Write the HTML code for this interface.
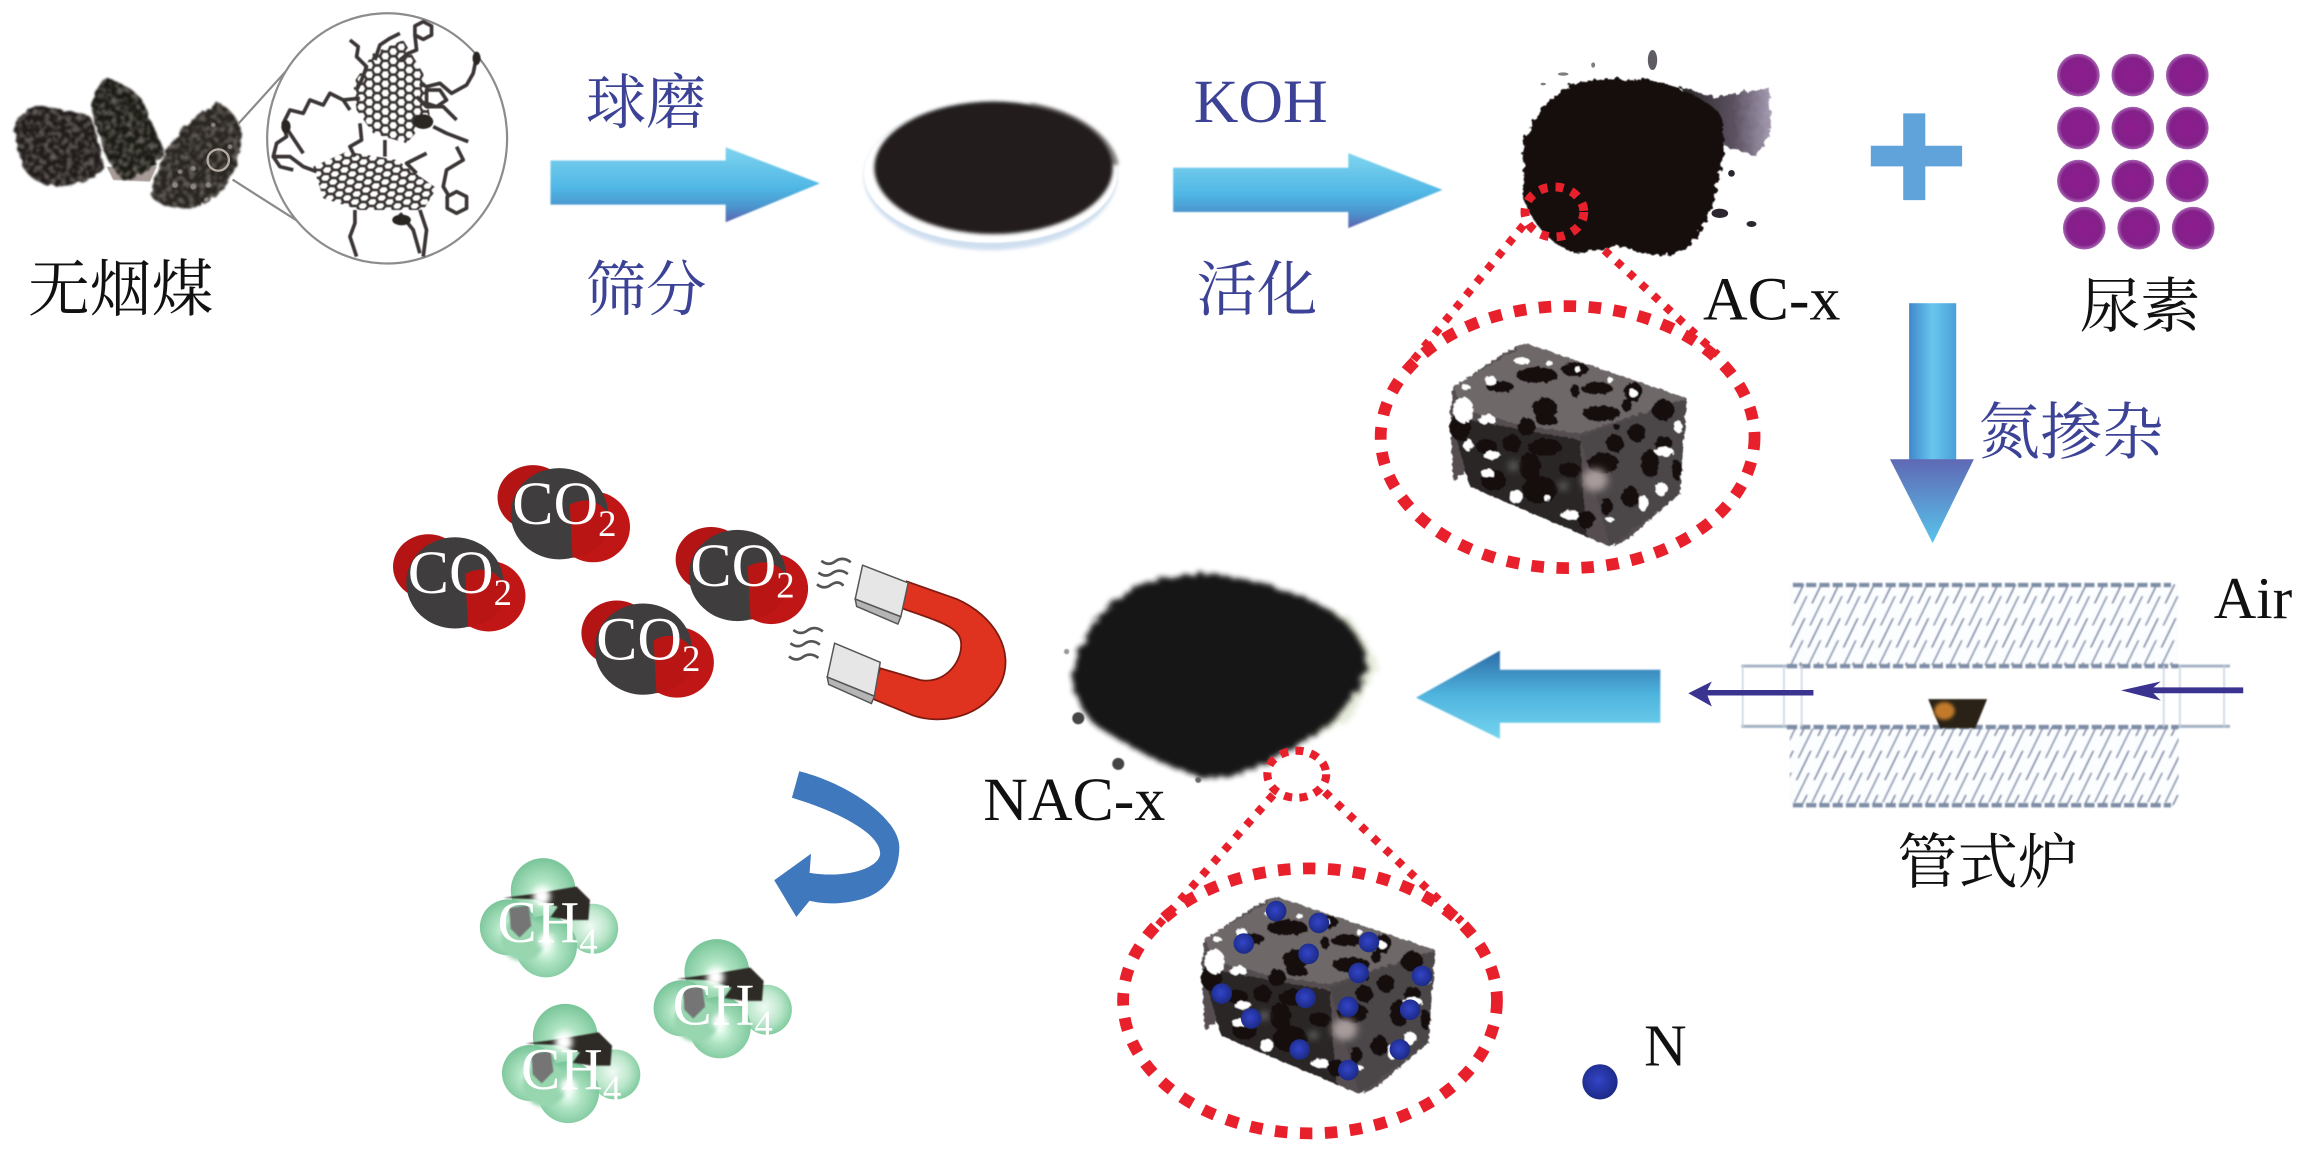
<!DOCTYPE html>
<html><head><meta charset="utf-8"><style>
html,body{margin:0;padding:0;background:#fff;width:2308px;height:1150px;overflow:hidden}
svg{display:block}
.zh{font-family:"Liberation Serif","Noto Serif CJK SC",serif;font-size:41px}
.en{font-family:"Liberation Serif","Noto Serif CJK SC",serif;font-size:42px}
.blue{fill:#3c4295}.blk{fill:#111}
.w{font-family:"Liberation Serif",serif;fill:#fff;font-size:42px}
.c{font-size:40px}
.s{font-size:25px}
</style></head><body>
<svg width="2308" height="1150" viewBox="0 0 1568 781.3" xmlns="http://www.w3.org/2000/svg" preserveAspectRatio="none">
<defs>
<linearGradient id="a1" x1="0" y1="0" x2="0" y2="1"><stop offset="0" stop-color="#7fd4ef"/><stop offset=".55" stop-color="#4fb6e4"/><stop offset=".8" stop-color="#4b93cc"/><stop offset="1" stop-color="#5d63b0"/></linearGradient>
<linearGradient id="a2" x1="0" y1="0" x2="1" y2="0"><stop offset="0" stop-color="#3f88cc"/><stop offset=".5" stop-color="#68c6ee"/><stop offset="1" stop-color="#4a9fd8"/></linearGradient>
<linearGradient id="a2h" x1="0" y1="0" x2="0" y2="1"><stop offset="0" stop-color="#5f68b4"/><stop offset="1" stop-color="#58c4ec"/></linearGradient>
<linearGradient id="a3" x1="0" y1="0" x2="0" y2="1"><stop offset="0" stop-color="#2b6aa6"/><stop offset=".5" stop-color="#4fb4de"/><stop offset="1" stop-color="#74d4ee"/></linearGradient>
<linearGradient id="st" x1="0" y1="0" x2="1" y2="0"><stop offset="0" stop-color="#120e0e"/><stop offset=".6" stop-color="#4a3f50"/><stop offset="1" stop-color="#9a8fa8"/></linearGradient>
<radialGradient id="gr" cx=".5" cy=".55" r=".55"><stop offset="0" stop-color="#eafff2"/><stop offset=".4" stop-color="#aee3c2"/><stop offset="1" stop-color="#78c498"/></radialGradient>
<radialGradient id="gr2" cx=".45" cy=".45" r=".55"><stop offset="0" stop-color="#f0fbf4"/><stop offset=".6" stop-color="#bde7cc"/><stop offset="1" stop-color="#86cda2"/></radialGradient>
<radialGradient id="pu" cx=".5" cy=".5" r=".5"><stop offset="0" stop-color="#8d1c8d"/><stop offset=".8" stop-color="#84208a"/><stop offset="1" stop-color="#a868b4"/></radialGradient>
<radialGradient id="bd" cx=".45" cy=".45" r=".55"><stop offset="0" stop-color="#3345c8"/><stop offset="1" stop-color="#1c2a86"/></radialGradient>
<pattern id="hexT" width="48" height="27.7" patternUnits="userSpaceOnUse"><path d="M0,13.85 L8,0 L24,0 L32,13.85 L24,27.7 L8,27.7 Z M32,13.85 L48,13.85" fill="none" stroke="#3b3534" stroke-width="8"/></pattern>
<pattern id="hexL" width="52" height="24" patternUnits="userSpaceOnUse" patternTransform="skewX(-12)"><path d="M0,12 L9,0 L26,0 L35,12 L26,24 L9,24 Z M35,12 L52,12" fill="none" stroke="#3b3534" stroke-width="8"/></pattern>
<pattern id="hatch" width="12" height="30" patternUnits="userSpaceOnUse" patternTransform="skewX(-26)"><rect width="12" height="30" fill="#fbfdff"/><line x1="3" y1="0" x2="3" y2="20" stroke="#7585a2" stroke-width="1.3"/><line x1="9" y1="15" x2="9" y2="30" stroke="#8394ae" stroke-width="1.3"/><line x1="9" y1="0" x2="9" y2="5" stroke="#8394ae" stroke-width="1.3"/></pattern>
<filter id="roughZ" x="-15%" y="-15%" width="130%" height="130%"><feTurbulence type="fractalNoise" baseFrequency=".05" numOctaves="3" seed="4"/><feDisplacementMap in="SourceGraphic" scale="24"/><feGaussianBlur stdDeviation="1.2"/></filter>
<filter id="roughB" x="-15%" y="-15%" width="130%" height="130%"><feTurbulence type="fractalNoise" baseFrequency=".05" numOctaves="3" seed="9"/><feDisplacementMap in="SourceGraphic" scale="28"/><feGaussianBlur stdDeviation="8"/></filter>
<filter id="tex" x="-10%" y="-10%" width="120%" height="120%"><feTurbulence type="fractalNoise" baseFrequency=".05" numOctaves="2" seed="3" result="n"/><feDisplacementMap in="SourceGraphic" in2="n" scale="18" result="d"/><feTurbulence type="fractalNoise" baseFrequency=".06" numOctaves="2" seed="7"/><feColorMatrix values="0 0 0 0 .3 0 0 0 0 .27 0 0 0 0 .24 0 0 0 1.2 -.55"/><feComposite in2="d" operator="in" result="sp"/><feMerge><feMergeNode in="d"/><feMergeNode in="sp"/></feMerge><feGaussianBlur stdDeviation="3"/></filter>
<filter id="cubef" x="-10%" y="-10%" width="120%" height="120%"><feTurbulence type="fractalNoise" baseFrequency=".07" numOctaves="2" seed="5"/><feDisplacementMap in="SourceGraphic" scale="14"/><feGaussianBlur stdDeviation="1.8"/></filter>
<filter id="zsb" x="-10%" y="-10%" width="120%" height="120%"><feGaussianBlur stdDeviation="1.6"/></filter>
<filter id="zsb2" x="-60%" y="-60%" width="220%" height="220%"><feGaussianBlur stdDeviation="11"/></filter>
<filter id="sb" x="-10%" y="-10%" width="120%" height="120%"><feGaussianBlur stdDeviation=".6"/></filter>
<filter id="sb2" x="-30%" y="-30%" width="160%" height="160%"><feGaussianBlur stdDeviation="1.3"/></filter>
<filter id="sb3" x="-60%" y="-60%" width="220%" height="220%"><feGaussianBlur stdDeviation="2"/></filter>
<g id="cube" transform="translate(971.5,224.2) scale(.2264)">
<g filter="url(#cubef)">
<path d="M70,170 L240,60 L290,40 L340,60 L520,120 L770,205 L750,490 L590,630 L540,650 L120,470 L120,420 L70,450 L60,240 Z" fill="#544d4f"/>
<polygon points="70,170 290,40 770,205 450,310 300,290 100,240" fill="#6e6769"/>
<polygon points="60,260 450,330 470,620 120,470" fill="#2a2526"/>
<polygon points="450,320 770,205 750,490 540,650" fill="#4c4648"/>
<g fill="#120e0f">
<ellipse cx="320" cy="135" rx="62" ry="24"/><ellipse cx="210" cy="170" rx="42" ry="17"/><ellipse cx="435" cy="118" rx="40" ry="22"/><ellipse cx="500" cy="175" rx="47" ry="20"/><ellipse cx="435" cy="182" rx="14" ry="20"/><ellipse cx="610" cy="185" rx="27" ry="30"/><ellipse cx="590" cy="225" rx="15" ry="20"/><ellipse cx="515" cy="250" rx="57" ry="24"/><ellipse cx="345" cy="235" rx="37" ry="32"/><ellipse cx="350" cy="270" rx="32" ry="17"/><ellipse cx="290" cy="290" rx="27" ry="27"/><ellipse cx="345" cy="352" rx="50" ry="27"/><ellipse cx="245" cy="340" rx="27" ry="27"/><ellipse cx="555" cy="340" rx="27" ry="27"/><ellipse cx="620" cy="308" rx="27" ry="27"/><ellipse cx="700" cy="240" rx="34" ry="32"/><ellipse cx="660" cy="400" rx="27" ry="42"/><ellipse cx="700" cy="340" rx="27" ry="22"/><ellipse cx="520" cy="400" rx="47" ry="32"/><ellipse cx="300" cy="410" rx="32" ry="42"/><ellipse cx="190" cy="450" rx="37" ry="32"/><ellipse cx="330" cy="480" rx="52" ry="42"/><ellipse cx="470" cy="570" rx="27" ry="27"/><ellipse cx="600" cy="500" rx="27" ry="32"/><ellipse cx="530" cy="530" rx="17" ry="27"/><ellipse cx="170" cy="350" rx="32" ry="22"/><ellipse cx="90" cy="290" rx="32" ry="42"/><ellipse cx="420" cy="420" rx="32" ry="22"/><ellipse cx="560" cy="290" rx="10" ry="10"/><ellipse cx="740" cy="420" rx="15" ry="30"/>
</g>
<g fill="#fff">
<ellipse cx="100" cy="240" rx="30" ry="38"/><ellipse cx="170" cy="268" rx="26" ry="14"/><ellipse cx="182" cy="152" rx="16" ry="16"/><ellipse cx="275" cy="92" rx="23" ry="10"/><ellipse cx="358" cy="100" rx="10" ry="8"/><ellipse cx="443" cy="118" rx="8" ry="10"/><ellipse cx="108" cy="172" rx="13" ry="8"/><ellipse cx="115" cy="345" rx="14" ry="18"/><ellipse cx="185" cy="375" rx="26" ry="12"/><ellipse cx="172" cy="430" rx="20" ry="12"/><ellipse cx="258" cy="500" rx="20" ry="20"/><ellipse cx="352" cy="505" rx="10" ry="10"/><ellipse cx="420" cy="555" rx="28" ry="14"/><ellipse cx="540" cy="568" rx="12" ry="6"/><ellipse cx="640" cy="520" rx="14" ry="24"/><ellipse cx="695" cy="478" rx="18" ry="20"/><ellipse cx="703" cy="365" rx="28" ry="13"/><ellipse cx="745" cy="290" rx="12" ry="18"/><ellipse cx="610" cy="190" rx="12" ry="12"/><ellipse cx="540" cy="150" rx="10" ry="8"/>
</g>
</g>
<ellipse cx="495" cy="450" rx="38" ry="34" fill="#a89b9b" filter="url(#zsb2)"/>
<ellipse cx="250" cy="408" rx="14" ry="14" fill="#6a6a6a" filter="url(#zsb2)"/>
<ellipse cx="400" cy="468" rx="14" ry="12" fill="#6a6a6a" filter="url(#zsb2)"/>
</g>
<g id="co2">
<ellipse cx="13" cy="-18" rx="24" ry="22" fill="#b51414"/>
<ellipse cx="54" cy="2" rx="25" ry="24" fill="#c01616"/>
<ellipse cx="31" cy="-7" rx="33" ry="31" fill="#3f3d3d"/>
<path d="M38,-13 C50,-20 62,-14 66,-3 C66,10 56,21 40,23 Z" fill="#b91515"/>
</g>
<g id="ch4">
<circle cx="30" cy="-36" r="22" fill="url(#gr)"/>
<circle cx="6" cy="-11" r="19" fill="url(#gr)"/>
<circle cx="64" cy="-10" r="17" fill="url(#gr2)"/>
<circle cx="32" cy="2" r="21" fill="url(#gr)"/>
<circle cx="16" cy="-3" r="15" fill="#98d6b0" filter="url(#sb2)"/>
<path d="M3,-31 L25.6,-34 L52.7,-38.7 L61.8,-29.6 L60.7,-16 L48,-16 L35,-18 L40,-25 L25,-30 Z" fill="#2e2a28" filter="url(#sb)"/>
<path d="M7,-24 L20,-26 L22,-12 L14,-4 L8,-10 Z" fill="#757575" filter="url(#sb)"/>
<circle cx="29" cy="-32" r="6" fill="#fff" filter="url(#sb3)"/>
<circle cx="32" cy="-2" r="5" fill="#fff" filter="url(#sb3)"/>
</g>
</defs>
<rect width="1568" height="782" fill="#fff"/>

<!-- coal -->
<g transform="translate(0,40.8) scale(.2264)">
<path d="M320,320 L340,360 L450,365 L470,320 Z" fill="#a89c98" filter="url(#zsb)"/>
<g filter="url(#tex)">
<path d="M45,190 C70,150 110,135 130,138 C180,150 240,155 270,170 C295,220 305,280 310,320 C280,360 240,375 180,378 C130,380 90,360 70,320 C55,270 40,230 45,190 Z" fill="#241f1c"/>
<path d="M275,130 C285,90 300,55 325,55 C370,70 410,95 430,125 C450,180 480,240 495,275 C470,320 420,350 370,360 C340,330 315,290 300,230 C285,190 275,160 275,130 Z" fill="#1f1a18"/>
<path d="M450,400 C470,340 490,280 520,240 C560,190 610,140 660,130 C700,150 730,200 725,240 C720,290 700,340 680,370 C650,410 620,440 560,445 C510,445 465,435 450,400 Z" fill="#2a2522"/>
</g>
<circle cx="655" cy="300" r="32" fill="none" stroke="#b3aba4" stroke-width="7"/>
<g fill="#8d857f" filter="url(#zsb)"><circle cx="525" cy="375" r="9"/><circle cx="580" cy="380" r="9"/><circle cx="625" cy="375" r="8"/><circle cx="580" cy="325" r="8"/><circle cx="540" cy="335" r="7"/><circle cx="620" cy="420" r="8"/><circle cx="640" cy="195" r="7"/><circle cx="690" cy="260" r="7"/></g>
</g>
<line x1="162" y1="84" x2="200" y2="42" stroke="#8a8a8a" stroke-width="1.5"/>
<line x1="158" y1="122" x2="205" y2="152" stroke="#8a8a8a" stroke-width="1.5"/>
<ellipse cx="263" cy="94" rx="81.5" ry="85" fill="#fff" stroke="#8c8c8c" stroke-width="1.5"/>
<g transform="translate(176.6,6.8) scale(.2264)" filter="url(#zsb)">
<polygon points="340,130 430,90 490,190 510,320 440,400 340,370 290,300 280,220" fill="url(#hexT)"/>
<polygon points="160,470 260,425 410,450 530,535 490,600 300,600 190,565" fill="url(#hexL)"/>
<g fill="none" stroke="#3b3534" stroke-width="11" stroke-linejoin="round">
<polygon points="490,35 515,48 515,75 490,88 465,75 465,48"/>
<polygon points="590,545 620,560 620,595 590,610 562,595 562,560"/>
<path d="M465,75 L470,120 L445,130 L420,150 M420,70 L390,85 L360,105 L345,150"/>
<path d="M270,90 L295,110 L290,140 L320,170 L305,210 L290,240"/>
<path d="M300,265 L250,270 L210,250 L190,285 L150,270 L130,310 L90,300 L70,340 L80,380 L50,400 L40,440 L90,440 L130,470 L170,485"/>
<path d="M480,220 L500,230 L540,220 L575,250 L620,225 L640,190 L650,140"/>
<path d="M470,260 L500,290 L550,290 L590,330 M560,370 L625,395 M520,350 L560,370"/>
<path d="M500,240 L540,240 L560,270 L530,290 L500,280 Z"/>
<path d="M590,410 L610,450 L560,480 L550,530 L565,555"/>
<path d="M285,600 L285,640 L270,680 L290,740"/>
<path d="M480,600 L500,660 L490,740 M420,610 L460,660 L480,730"/>
<path d="M300,340 L305,390 L270,410 L285,440 M375,390 L375,440 M500,430 L440,460 L470,490"/>
<path d="M250,270 L270,300 M70,340 L110,400 L130,430 M40,440 L60,470 L100,480"/>
</g>
<g fill="#2b2624"><ellipse cx="490" cy="335" rx="30" ry="22"/><ellipse cx="425" cy="630" rx="28" ry="16"/><ellipse cx="650" cy="145" rx="12" ry="20"/><ellipse cx="78" cy="350" rx="14" ry="20"/></g>
</g>
<text class="zh blk" x="19" y="211" style="font-size:42px">无烟煤</text>

<!-- arrow 1 -->
<path d="M374,109 L493,109 L493,100 L557,124.6 L493,151 L493,139 L374,139 Z" fill="url(#a1)" filter="url(#sb)"/>
<text class="zh blue" x="398" y="84">球磨</text>
<text class="zh blue" x="398" y="211">筛分</text>

<!-- dish -->
<ellipse cx="673" cy="120" rx="86" ry="50" fill="#d0dff0" filter="url(#sb2)"/>
<ellipse cx="673" cy="118" rx="86" ry="47" fill="#fff" filter="url(#sb)"/>
<path d="M700,70 C735,75 758,95 760,112 L752,112 C745,95 730,80 700,72 Z" fill="#8a8585" filter="url(#sb2)"/>
<ellipse cx="675" cy="114" rx="81" ry="45" fill="#221e1f" filter="url(#sb2)"/>

<!-- KOH -->
<text class="en blue" x="811" y="83">KOH</text>
<path d="M797,114 L916,114 L916,104 L980,129 L916,155 L916,144 L797,144 Z" fill="url(#a1)" filter="url(#sb)"/>
<text class="zh blue" x="813" y="211">活化</text>

<!-- AC blob -->
<g transform="translate(1005.4,34) scale(.2264)">
<path d="M600,110 L700,140 L870,115 L870,250 L830,320 L740,290 L640,200 Z" fill="url(#st)" filter="url(#roughZ)" opacity=".9"/>
<path d="M130,290 C140,220 210,140 280,100 C340,85 420,85 510,90 C600,110 680,150 720,190 C745,250 730,340 710,400 C700,470 680,540 620,590 C570,630 500,620 430,590 C370,590 310,620 260,600 C200,570 140,500 130,430 Z" fill="#130f0f" filter="url(#roughZ)"/>
<g fill="#2b2630"><ellipse cx="518" cy="30" rx="14" ry="30" opacity=".75"/><ellipse cx="815" cy="522" rx="15" ry="9"/><ellipse cx="720" cy="490" rx="25" ry="14"/><ellipse cx="755" cy="370" rx="10" ry="10"/><ellipse cx="250" cy="72" rx="16" ry="5" opacity=".6"/><ellipse cx="340" cy="45" rx="6" ry="8" opacity=".6"/><ellipse cx="190" cy="102" rx="8" ry="4" opacity=".6"/></g>
</g>
<ellipse cx="1056" cy="144" rx="20" ry="17" fill="none" stroke="#e8202c" stroke-width="6" stroke-dasharray="5.5 5.5"/>
<line x1="1035" y1="153" x2="955" y2="251" stroke="#e8202c" stroke-width="5.5" stroke-dasharray="5 6.3"/>
<line x1="1090" y1="170" x2="1167" y2="241" stroke="#e8202c" stroke-width="5.5" stroke-dasharray="5 6.3"/>
<ellipse cx="1065" cy="297" rx="127" ry="89" fill="none" stroke="#e8202c" stroke-width="8" stroke-dasharray="8.5 8.5"/>
<use href="#cube"/>
<text class="en blk" x="1157" y="217">AC-x</text>

<!-- plus -->
<path d="M1293,77 L1308,77 L1308,99 L1333,99 L1333,113 L1308,113 L1308,136 L1293,136 L1293,113 L1271,113 L1271,99 L1293,99 Z" fill="#5fa3da"/>

<!-- urea -->
<g fill="url(#pu)">
<circle cx="1412" cy="51" r="14.5"/><circle cx="1449" cy="51" r="14.5"/><circle cx="1486" cy="51" r="14.5"/>
<circle cx="1412" cy="87" r="14.5"/><circle cx="1449" cy="87" r="14.5"/><circle cx="1486" cy="87" r="14.5"/>
<circle cx="1412" cy="123" r="14.5"/><circle cx="1449" cy="123" r="14.5"/><circle cx="1486" cy="123" r="14.5"/>
<circle cx="1416" cy="155" r="14.5"/><circle cx="1453" cy="155" r="14.5"/><circle cx="1490" cy="155" r="14.5"/>
</g>
<text class="zh blk" x="1413" y="222">尿素</text>

<!-- down arrow -->
<rect x="1297" y="206" width="32" height="107" fill="url(#a2)"/>
<path d="M1284,312 L1341,312 L1313,369 Z" fill="url(#a2h)"/>
<text class="zh blue" x="1344" y="308" style="font-size:42px">氮掺杂</text>

<!-- furnace -->
<g filter="url(#sb)">
<rect x="1216" y="397" width="264" height="55" fill="url(#hatch)"/>
<rect x="1216" y="494" width="264" height="53" fill="url(#hatch)"/>
<g stroke="#7d8da6" stroke-width="3" stroke-dasharray="7 2"><line x1="1218" y1="397.5" x2="1475" y2="397.5"/><line x1="1218" y1="547" x2="1475" y2="547"/><line x1="1214" y1="452.5" x2="1480" y2="452.5"/><line x1="1214" y1="494" x2="1480" y2="494"/></g>
<g stroke="#a3b0c4" stroke-width="2"><line x1="1183" y1="452.5" x2="1214" y2="452.5"/><line x1="1183" y1="493.5" x2="1214" y2="493.5"/><line x1="1480" y1="452.5" x2="1515" y2="452.5"/><line x1="1480" y1="493.5" x2="1515" y2="493.5"/></g>
<g stroke="#c5d0df" stroke-width="1"><line x1="1184" y1="452" x2="1184" y2="494"/><line x1="1212" y1="452" x2="1212" y2="494"/><line x1="1224" y1="452" x2="1224" y2="494"/><line x1="1470" y1="452" x2="1470" y2="494"/><line x1="1481" y1="452" x2="1481" y2="494"/><line x1="1511" y1="452" x2="1511" y2="494"/></g>
</g>
<path d="M1310,475 L1350,475 L1342,494.7 L1318,494.7 Z" fill="#2a2018" filter="url(#sb)"/>
<ellipse cx="1321" cy="483" rx="7" ry="6" fill="#c27a2a" filter="url(#sb2)"/>
<path d="M1147,471 L1163,463 L1160,468.8 L1232,468.8 L1232,472.5 L1160,472.5 L1163,480 Z" fill="#3a3490"/>
<path d="M1441,469 L1468,463 L1463,467 L1524,467 L1524,471 L1463,471 L1468,476 Z" fill="#3a3490"/>
<text class="en blk" x="1504" y="420" style="font-size:40px">Air</text>
<text class="zh blk" x="1289" y="600" style="font-size:41px">管式炉</text>

<!-- left arrow -->
<path d="M962,474 L1019,442 L1019,455 L1128,455 L1128,491 L1019,491 L1019,502 Z" fill="url(#a3)" filter="url(#sb)"/>

<!-- NAC -->
<g transform="translate(713.3,380.4) scale(.2264)">
<path d="M700,120 L900,170 L985,310 L900,480 L700,560 Z" fill="#e4ead8" filter="url(#roughB)"/>
<path d="M70,350 C80,230 180,110 280,70 C360,50 420,40 480,40 C600,60 760,90 880,180 C930,230 950,280 950,320 C930,420 820,530 680,590 C600,640 520,660 450,650 C340,620 200,540 130,490 C90,440 70,400 70,350 Z" fill="#141212" filter="url(#roughB)"/>
<circle cx="85" cy="475" r="18" fill="#444" filter="url(#zsb)"/><circle cx="205" cy="612" r="18" fill="#444" filter="url(#zsb)"/><circle cx="50" cy="275" r="8" fill="#999" filter="url(#zsb)"/><circle cx="445" cy="660" r="9" fill="#666" filter="url(#zsb)"/>
</g>
<text class="en blk" x="668" y="557">NAC-x</text>
<ellipse cx="881" cy="526" rx="20" ry="16" fill="none" stroke="#e8202c" stroke-width="5.5" stroke-dasharray="5.5 5"/>
<line x1="865" y1="540" x2="782" y2="634" stroke="#e8202c" stroke-width="5.5" stroke-dasharray="5 6.3"/>
<line x1="900" y1="538" x2="993" y2="626" stroke="#e8202c" stroke-width="5.5" stroke-dasharray="5 6.3"/>
<ellipse cx="890" cy="680" rx="127" ry="90" fill="none" stroke="#e8202c" stroke-width="8" stroke-dasharray="8.5 8.5"/>
<g transform="translate(-156,383) scale(.987,.97)"><use href="#cube"/></g>
<g fill="url(#bd)">
<circle cx="867" cy="619" r="7"/><circle cx="896" cy="627" r="7"/><circle cx="930" cy="640" r="7"/><circle cx="845" cy="641" r="7"/><circle cx="889" cy="648" r="7"/><circle cx="923" cy="661" r="7"/><circle cx="966" cy="663" r="7"/><circle cx="830" cy="675" r="7"/><circle cx="887" cy="678" r="7"/><circle cx="916" cy="684" r="7"/><circle cx="958" cy="686" r="7"/><circle cx="850" cy="692" r="7"/><circle cx="883" cy="713" r="7"/><circle cx="951" cy="713" r="7"/><circle cx="916" cy="727" r="7"/>
</g>
<circle cx="1087" cy="735" r="12" fill="url(#bd)"/>
<text class="en blk" x="1117" y="724" style="font-size:40px">N</text>

<!-- CO2 -->
<use href="#co2" x="278" y="403"/><use href="#co2" x="349" y="356"/><use href="#co2" x="406" y="448"/><use href="#co2" x="470" y="398"/>
<text class="w" x="277" y="403">CO<tspan class="s" dy="8">2</tspan></text>
<text class="w" x="348" y="356">CO<tspan class="s" dy="8">2</tspan></text>
<text class="w" x="405" y="448">CO<tspan class="s" dy="8">2</tspan></text>
<text class="w" x="469" y="398">CO<tspan class="s" dy="8">2</tspan></text>

<!-- magnet -->
<path d="M616,395 L650,407 C675,418 690,442 680,464 C668,487 640,493 620,486 L591,474 L598,454 L625,462 C640,465 653,452 653,438 C653,426 640,423 612,413 Z" fill="#e0331f" stroke="#7e1a10" stroke-width="1.2"/>
<g stroke="#555" stroke-width="1"><path d="M586,384 L617,396 L612,419 L581,407 Z" fill="#e6e6e6"/><path d="M581,407 L612,419 L610,424 L582,412 Z" fill="#b5b5b5"/>
<path d="M567,437 L598,450 L594,473 L562,460 Z" fill="#e6e6e6"/><path d="M562,460 L594,473 L592,478 L563,465 Z" fill="#b5b5b5"/></g>
<g fill="none" stroke="#555" stroke-width="1.8"><path d="M558,381 q5,4 10,0 q5,-3 10,1"/><path d="M556,389 q5,4 10,0 q5,-3 10,1"/><path d="M555,397 q5,4 10,0 q5,-3 8,1"/><path d="M539,428 q5,4 10,0 q5,-3 10,1"/><path d="M537,437 q5,4 10,0 q5,-3 10,1"/><path d="M536,446 q5,4 10,0 q5,-3 10,1"/></g>

<!-- curved arrow -->
<path d="M543,524 C575,532 610,555 611,575 C611,595 600,607 585,611 C570,615 558,614 550,612 L541,623 L526,598 L551,580 L550,593 C575,597 597,590 598,580 C598,565 565,550 538,542 Z" fill="#3f78bc"/>

<!-- CH4 -->
<use href="#ch4" x="339" y="641"/><use href="#ch4" x="457" y="696"/><use href="#ch4" x="354" y="740"/>
<text class="w c" x="338" y="640">CH<tspan class="s" dy="8">4</tspan></text>
<text class="w c" x="457" y="696">CH<tspan class="s" dy="8">4</tspan></text>
<text class="w c" x="354" y="740">CH<tspan class="s" dy="8">4</tspan></text>
</svg>
</body></html>
